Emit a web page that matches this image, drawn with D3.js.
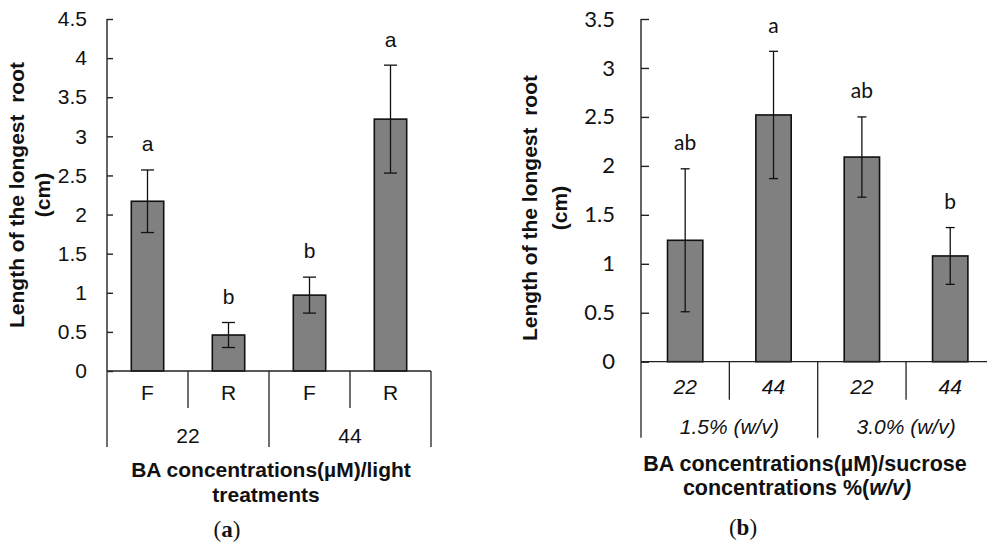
<!DOCTYPE html>
<html>
<head>
<meta charset="utf-8">
<script src="https://cdn.jsdelivr.net/npm/d3@7"></script>
<style>
  html, body { margin: 0; padding: 0; background: #fff; }
  svg { display: block; }
</style>
</head>
<body>
<svg id="chart" width="987" height="555"></svg>
<script>
// Panel (a): BA concentration x light treatment
const lightCategories = ["F", "R", "F", "R"];
const lightGroups = ["22", "44"];
const lightMeans = [2.17, 0.46, 0.97, 3.22];
const lightErrors = [0.40, 0.16, 0.23, 0.69];
const lightLetters = ["a", "b", "b", "a"];
const lightTicks = [0, 0.5, 1, 1.5, 2, 2.5, 3, 3.5, 4, 4.5];

// Panel (b): BA concentration x sucrose concentration
const sucroseCategories = ["22", "44", "22", "44"];
const sucroseGroups = ["1.5% (w/v)", "3.0% (w/v)"];
const sucroseMeans = [1.24, 2.52, 2.09, 1.08];
const sucroseErrors = [0.73, 0.65, 0.41, 0.29];
const sucroseLetters = ["ab", "a", "ab", "b"];
const sucroseTicks = [0, 0.5, 1, 1.5, 2, 2.5, 3, 3.5];

const svg = d3.select("#chart");
const ARIAL = "'Liberation Sans', Arial, sans-serif";

function drawPanel(p) {
  const g = svg.append("g");
  const keys = p.categories.map((c, i) => i);
  const x = d3.scaleBand().domain(keys).range([p.x0, p.x1])
    .paddingInner(0.6).paddingOuter(0.3);
  const y = d3.scaleLinear().domain([0, p.yMax]).range([p.y0, p.yTop]);
  const step = x.step();

  // y axis, ticks pointing into the plot
  const yAxis = d3.axisLeft(y).tickValues(p.ticks).tickFormat(d => String(d))
    .tickSizeInner(-p.tickLen).tickSizeOuter(0).tickPadding(p.tickPad);
  const ya = g.append("g").attr("transform", `translate(${p.x0},0)`).call(yAxis);
  ya.select(".domain").attr("stroke", "#222").attr("stroke-width", 1.4)
    .attr("d", `M0,${p.y0}V${p.yTop}`);
  ya.selectAll(".tick line").attr("stroke", "#222").attr("stroke-width", 1.4);
  ya.selectAll(".tick text").attr("font-family", p.tickFont)
    .attr("font-size", p.tickSize).attr("fill", "#111");

  // bars
  g.selectAll("rect.bar").data(p.means).join("rect")
    .attr("class", "bar")
    .attr("x", (d, i) => x(i))
    .attr("width", x.bandwidth())
    .attr("y", d => y(d))
    .attr("height", d => y(0) - y(d))
    .attr("fill", "#808080")
    .attr("stroke", "#111")
    .attr("stroke-width", 1.6);

  // error bars
  const eb = g.selectAll("g.err").data(p.means).join("g").attr("class", "err");
  const cx = i => x(i) + x.bandwidth() / 2;
  eb.append("line")
    .attr("x1", (d, i) => cx(i)).attr("x2", (d, i) => cx(i))
    .attr("y1", (d, i) => y(d + p.errors[i])).attr("y2", (d, i) => y(d - p.errors[i]));
  eb.append("line")
    .attr("x1", (d, i) => cx(i) - p.cap).attr("x2", (d, i) => cx(i) + p.cap)
    .attr("y1", (d, i) => y(d + p.errors[i])).attr("y2", (d, i) => y(d + p.errors[i]));
  eb.append("line")
    .attr("x1", (d, i) => cx(i) - p.cap).attr("x2", (d, i) => cx(i) + p.cap)
    .attr("y1", (d, i) => y(d - p.errors[i])).attr("y2", (d, i) => y(d - p.errors[i]));
  eb.selectAll("line").attr("stroke", "#111").attr("stroke-width", 1.3);

  // significance letters
  g.selectAll("text.letter").data(p.letters).join("text")
    .attr("class", "letter")
    .attr("x", (d, i) => cx(i))
    .attr("y", (d, i) => y(p.means[i] + p.errors[i]) - 26)
    .attr("dy", "0.35em")
    .attr("text-anchor", "middle")
    .attr("font-family", p.letterFont)
    .attr("font-size", p.letterSize)
    .attr("fill", "#111")
    .text(d => d);

  // category table below the axis
  const line = (x1, y1, x2, y2) => g.append("line")
    .attr("x1", x1).attr("y1", y1).attr("x2", x2).attr("y2", y2)
    .attr("stroke", "#222").attr("stroke-width", 1.3);
  line(p.x0, p.y0, p.x0 + step * keys.length, p.y0);
  for (let k = 0; k <= keys.length; k++) {
    const xx = p.x0 + step * k;
    line(xx, p.y0, xx, p.y0 + (k % 2 === 0 ? p.longDiv : p.shortDiv));
  }
  g.selectAll("text.cat").data(p.categories).join("text")
    .attr("class", "cat")
    .attr("x", (d, i) => cx(i))
    .attr("y", p.y0 + p.catOffset)
    .attr("dy", "0.35em")
    .attr("text-anchor", "middle")
    .attr("font-family", ARIAL)
    .attr("font-style", p.catItalic ? "italic" : "normal")
    .attr("font-size", 21)
    .attr("fill", "#111")
    .text(d => d);
  g.selectAll("text.grp").data(p.groups).join("text")
    .attr("class", "grp")
    .attr("x", (d, i) => p.x0 + step * (2 * i + 1))
    .attr("y", p.y0 + p.grpOffset)
    .attr("dy", "0.35em")
    .attr("text-anchor", "middle")
    .attr("font-family", ARIAL)
    .attr("font-style", p.catItalic ? "italic" : "normal")
    .attr("font-size", 21)
    .attr("fill", "#111")
    .text(d => d);

  // y title (two lines)
  p.yTitle.forEach((t, k) => {
    g.append("text")
      .attr("transform", `translate(${p.yTitleX[k]},${p.yTitleY}) rotate(-90)`)
      .attr("dy", "0.35em")
      .attr("text-anchor", "middle")
      .attr("font-family", ARIAL)
      .attr("font-weight", "bold")
      .attr("font-size", 21)
      .attr("fill", "#111")
      .attr("xml:space", "preserve")
      .style("white-space", "pre")
      .text(t);
  });

  // x title
  p.xTitle.forEach((parts, k) => {
    const t = g.append("text")
      .attr("x", p.xTitleX[k])
      .attr("y", p.xTitleY[k])
      .attr("dy", "0.35em")
      .attr("text-anchor", "middle")
      .attr("font-family", ARIAL)
      .attr("font-weight", "bold")
      .attr("font-size", p.xTitleSize)
      .attr("fill", "#111");
    parts.forEach(([s, it]) => t.append("tspan").attr("font-style", it ? "italic" : "normal").text(s));
  });

  // panel label
  const lab = g.append("text")
    .attr("x", p.labelX).attr("y", p.labelY).attr("dy", "0.35em")
    .attr("text-anchor", "middle")
    .attr("font-family", "'Liberation Serif', 'DejaVu Serif', serif")
    .attr("font-size", 23)
    .attr("fill", "#111");
  lab.append("tspan").text("(");
  lab.append("tspan").attr("font-weight", "bold").text(p.label);
  lab.append("tspan").text(")");
}

drawPanel({
  categories: lightCategories, groups: lightGroups,
  means: lightMeans, errors: lightErrors, letters: lightLetters, ticks: lightTicks,
  yMax: 4.5, x0: 107, x1: 431, y0: 371, yTop: 19,
  tickLen: 6, tickPad: 20, tickFont: ARIAL, tickSize: 21,
  letterFont: ARIAL, letterSize: 21, cap: 6.5,
  longDiv: 76, shortDiv: 37, catOffset: 22, grpOffset: 65, catItalic: false,
  yTitle: ["Length of the longest  root", "(cm)"], yTitleX: [17, 43], yTitleY: 195,
  xTitle: [[["BA concentrations(µM)/light", false]], [["treatments", false]]],
  xTitleX: [271, 266], xTitleY: [470, 495], xTitleSize: 21,
  label: "a", labelX: 227, labelY: 529
});

drawPanel({
  categories: sucroseCategories, groups: sucroseGroups,
  means: sucroseMeans, errors: sucroseErrors, letters: sucroseLetters, ticks: sucroseTicks,
  yMax: 3.5, x0: 641, x1: 994.4, y0: 361.7, yTop: 19,
  tickLen: 8, tickPad: 26, tickFont: "Lato, 'Open Sans', sans-serif", tickSize: 22,
  letterFont: "Lato, 'Open Sans', sans-serif", letterSize: 21, cap: 4.5,
  longDiv: 76, shortDiv: 38, catOffset: 25, grpOffset: 65, catItalic: true,
  yTitle: ["Length of the longest  root", "(cm)"], yTitleX: [530, 560], yTitleY: 208,
  xTitle: [[["BA concentrations(µM)/sucrose", false]], [["concentrations %(", false], ["w/v)", true]]],
  xTitleX: [805, 797], xTitleY: [463, 487], xTitleSize: 21.5,
  label: "b", labelX: 743, labelY: 527
});
</script>
</body>
</html>
